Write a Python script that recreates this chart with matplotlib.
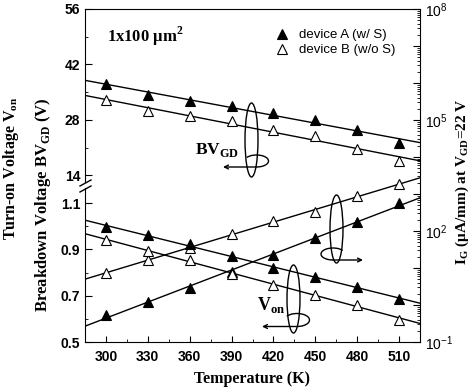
import numpy as np
import matplotlib
matplotlib.use("Agg")
import matplotlib.pyplot as plt
from matplotlib.patches import Ellipse, Arc
from matplotlib.lines import Line2D
from matplotlib.ticker import MultipleLocator, LogLocator, NullFormatter

# data
temp = np.array([300, 330, 360, 390, 420, 450, 480, 510])
bv_a = np.array([37.1, 34.3, 32.8, 31.6, 29.7, 28.1, 25.5, 22.1])
bv_b = np.array([33.1, 30.2, 28.9, 27.7, 25.5, 23.9, 20.7, 17.6])
von_a = np.array([0.996, 0.960, 0.925, 0.870, 0.819, 0.780, 0.737, 0.687])
von_b = np.array([0.939, 0.893, 0.856, 0.795, 0.748, 0.705, 0.658, 0.597])
ig_a = np.array([0.54, 1.23, 2.8, 7.65, 22.4, 63, 178, 560])
ig_b = np.array([7.5, 16.4, 34, 81, 190, 332, 883, 1862])

xticks = [300, 330, 360, 390, 420, 450, 480, 510]
xlim = (285, 525)

sans = "Liberation Sans"
serif = "Liberation Serif"
plt.rcParams["font.family"] = sans

W, H = 474, 390
fig = plt.figure(figsize=(W / 100, H / 100), dpi=100)

L, R, T, B = 85, 420, 9, 342


def fr(x0, y0, y1):
    # pixel box -> figure fraction rect
    return [x0 / W, 1 - y1 / H, (R - x0) / W, (y1 - y0) / H]


ax_r = fig.add_axes(fr(L, T, B))
ax_top = fig.add_axes(fr(L, T, 182))
ax_bot = fig.add_axes(fr(L, 188, B))

# right log axis (frame)
ax_r.set_yscale("log")
ax_r.set_xlim(*xlim)
ax_r.set_ylim(1e-1, 1e8)
ax_r.yaxis.tick_right()
ax_r.spines["left"].set_visible(False)
decades = [10.0 ** k for k in range(-1, 9)]
ax_r.set_yticks(decades)
ax_r.set_yticklabels([r"10$^{\mathregular{%d}}$" % k if k % 3 == 2 else ""
                      for k in range(-1, 9)])
ax_r.yaxis.set_minor_locator(LogLocator(base=10, subs=np.arange(2, 10), numticks=20))
ax_r.yaxis.set_minor_formatter(NullFormatter())
ax_r.set_xticks(xticks)
ax_r.xaxis.set_minor_locator(MultipleLocator(15))
ax_r.tick_params(axis="both", which="both", direction="in")
ax_r.tick_params(axis="y", which="major", length=5, labelsize=10)
ax_r.tick_params(axis="y", which="minor", length=2.5)
ax_r.tick_params(axis="x", which="major", length=4, labelsize=10, pad=6)
ax_r.tick_params(axis="x", which="minor", length=2)
for lab in ax_r.get_xticklabels():
    lab.set_fontweight("bold")

# left broken axis
for ax in (ax_top, ax_bot):
    ax.set_xlim(*xlim)
    ax.patch.set_visible(False)
    for s in ("top", "right", "bottom"):
        ax.spines[s].set_visible(False)
    ax.set_xticks([])
    ax.tick_params(axis="y", which="both", direction="in", labelsize=10)
    ax.tick_params(axis="y", which="major", length=5)
    ax.tick_params(axis="y", which="minor", length=2.5)

ax_top.set_ylim(12.36, 56)
ax_top.set_yticks([14, 28, 42, 56])
ax_top.yaxis.set_minor_locator(MultipleLocator(7))
ax_bot.set_ylim(0.5, 1.165)
ax_bot.set_yticks([0.5, 0.7, 0.9, 1.1])
ax_bot.set_yticklabels(["0.5", "0.7", "0.9", "1.1"])
ax_bot.yaxis.set_minor_locator(MultipleLocator(0.1))
for ax in (ax_top, ax_bot):
    for lab in ax.get_yticklabels():
        lab.set_fontweight("bold")

xx = np.array(xlim, dtype=float)
mk = dict(marker="^", ms=6.5, mew=0.8, linestyle="none", color="black", zorder=3)
lk = dict(color="black", lw=1.0, zorder=2)


def fit_line(ax, x, y, log=False):
    if log:
        p = np.polyfit(x, np.log10(y), 1)
        ax.plot(xx, 10 ** np.polyval(p, xx), **lk)
    else:
        p = np.polyfit(x, y, 1)
        ax.plot(xx, np.polyval(p, xx), **lk)


for ax, ya, yb, lg in ((ax_top, bv_a, bv_b, False),
                       (ax_bot, von_a, von_b, False),
                       (ax_r, ig_a, ig_b, True)):
    fit_line(ax, temp, ya, lg)
    fit_line(ax, temp, yb, lg)
    ha, = ax.plot(temp, ya, mfc="black", **mk)
    hb, = ax.plot(temp, yb, mfc="white", **mk)
    if ax is ax_top:
        h_a, h_b = ha, hb

ax_top.legend([h_a, h_b], ["device A (w/ S)", "device B (w/o S)"],
              loc="upper right", bbox_to_anchor=(0.95, 0.93), frameon=False,
              fontsize=9.5, handlelength=1.0, handletextpad=0.8,
              labelspacing=0.2, borderaxespad=0.2)

# break marks on the left spine
for yb_ in (184, 190):
    fig.add_artist(Line2D([80 / W, 91 / W], [1 - (yb_ + 2) / H, 1 - (yb_ - 4) / H],
                          transform=fig.transFigure, color="black", lw=1.0))


def af(px, py):
    return ((px - L) / (R - L), (B - py) / (B - T))


def ring(cx, cy, w, h):
    ax_r.add_patch(Ellipse(af(cx, cy), w / (R - L), h / (B - T),
                           transform=ax_r.transAxes, fill=False, lw=1.0))


def loop(cx, cy, w, h, t1, t2, x_end, y_end, x_start):
    ax_r.add_patch(Arc(af(cx, cy), w / (R - L), h / (B - T), theta1=t1, theta2=t2,
                       transform=ax_r.transAxes, lw=1.0))
    ax_r.annotate("", xy=af(x_end, y_end), xytext=af(x_start, y_end),
                  xycoords="axes fraction", textcoords="axes fraction",
                  arrowprops=dict(arrowstyle="->", lw=1.0, color="black",
                                  shrinkA=0, shrinkB=0, mutation_scale=7))


ring(251.5, 140, 13, 74)
loop(256.5, 161, 24, 12, 270, 160, 223, 167, 256.5)
ring(336.5, 229, 13, 68)
loop(333, 254, 24, 12, 20, 270, 363, 260, 333)
ring(293.5, 299, 13, 68)
loop(297, 320, 25, 13, 270, 160, 262, 326.5, 297)

ax_r.text(*af(195, 150), r"BV$_{\mathregular{GD}}$", transform=ax_r.transAxes,
          family=serif, fontweight="bold", fontsize=12.5, ha="left", va="center")
ax_r.text(*af(257, 305), r"V$_{\mathregular{on}}$", transform=ax_r.transAxes,
          family=serif, fontweight="bold", fontsize=13, ha="left", va="center")
ax_r.text(*af(107, 36), r"1x100 $\mathregular{\mu}$m$^{\mathregular{2}}$",
          transform=ax_r.transAxes, family=serif, fontweight="bold",
          fontsize=12, ha="left", va="center")

# axis titles
fig.text(252 / W, 1 - 379 / H, "Temperature (K)", family=serif, fontweight="bold",
         fontsize=11.5, ha="center", va="center")
fig.text(43 / W, 1 - 205 / H, r"Breakdown Voltage BV$_{\mathregular{GD}}$ (V)",
         family=serif, fontweight="bold", fontsize=12, rotation=90,
         ha="center", va="center")
fig.text(11 / W, 1 - 168 / H, r"Turn-on Voltage V$_{\mathregular{on}}$",
         family=serif, fontweight="bold", fontsize=11.5, rotation=90,
         ha="center", va="center")
fig.text(462 / W, 1 - 182 / H,
         r"I$_{\mathregular{G}}$ ($\mathregular{\mu}$A/mm) at V$_{\mathregular{GD}}$=22 V",
         family=serif, fontweight="bold", fontsize=11, rotation=90,
         ha="center", va="center")

fig.savefig("out.png", dpi=100)
